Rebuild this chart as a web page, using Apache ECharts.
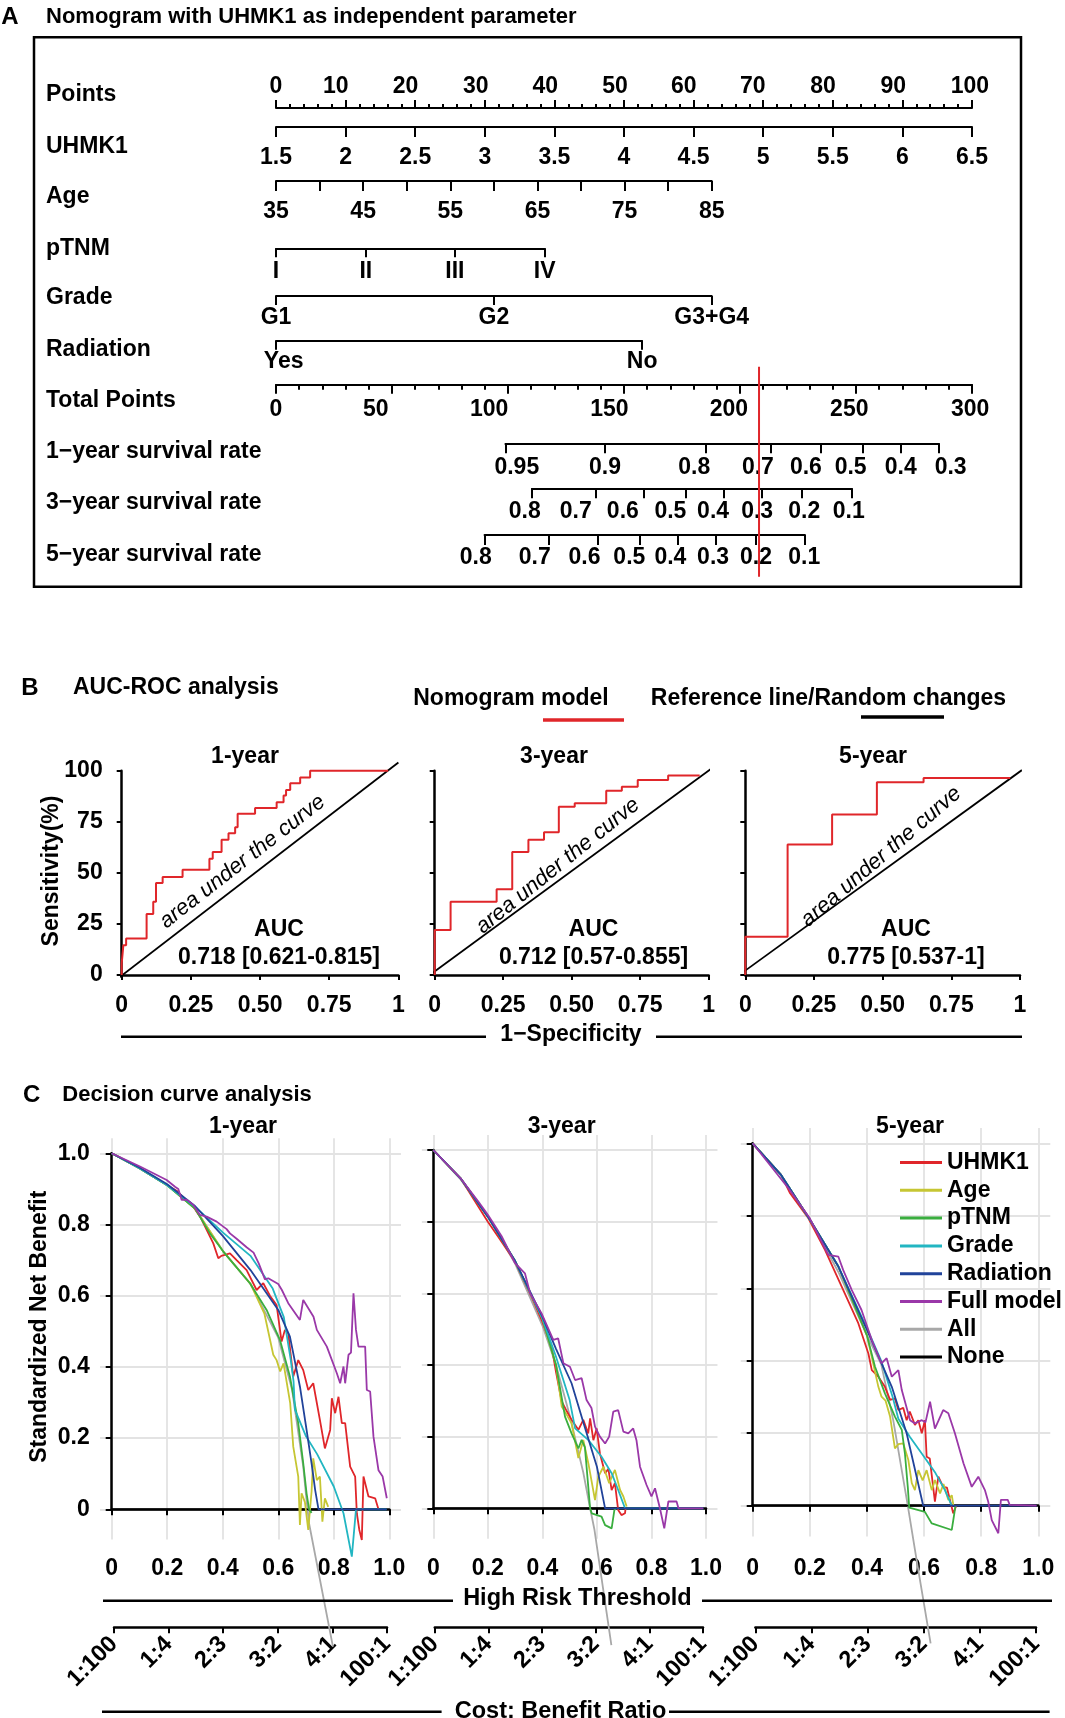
<!DOCTYPE html>
<html><head><meta charset="utf-8">
<script src="https://cdn.jsdelivr.net/npm/echarts@6/dist/echarts.min.js"></script>
<style>html,body{margin:0;padding:0;background:#fff}#c{width:1065px;height:1718px}</style>
</head><body><div id="c"></div>
<script>
// ================= DATA =================
// Panel A (nomogram)
const pointsMin = 0, pointsMax = 100, pointsStep = 10;
const pointsLabels = ['0', '10', '20', '30', '40', '50', '60', '70', '80', '90', '100'];
const pointsLabelAt = [0, 8.6, 18.6, 28.7, 38.7, 48.7, 58.6, 68.5, 78.6, 88.7, 99.7];
const uhmk1Min = 1.5, uhmk1Max = 6.5, uhmk1Step = 0.5;
const ageMin = 35, ageMax = 85, ageTickStep = 5, ageLabelStep = 10, ageMaxPoints = 62.6;
const pTNMLabels = ['I', 'II', 'III', 'IV'];
const pTNMPoints = [0, 12.9, 25.7, 38.6];
const gradeLabels = ['G1', 'G2', 'G3+G4'];
const gradePoints = [0, 31.3, 62.6];
const radiationLabels = ['Yes', 'No'];
const radiationPoints = [0, 52.6];
const radiationLabelAt = [1.1, 52.6];
const totalMin = 0, totalMax = 300, totalStep = 50;
const totalLabels = ['0', '50', '100', '150', '200', '250', '300'];
const totalLabelAt = [0, 43.0, 91.9, 143.7, 195.2, 247.1, 299.2];
const surv1Labels = ['0.95', '0.9', '0.8', '0.7', '0.6', '0.5', '0.4', '0.3'];
const surv1Ticks = [98.9, 141.5, 185.4, 213.1, 234.7, 252.8, 269.3, 285.7];
const surv1LabelAt = [103.8, 141.8, 180.3, 207.7, 228.4, 247.7, 269.3, 290.8];
const surv3Labels = ['0.8', '0.7', '0.6', '0.5', '0.4', '0.3', '0.2', '0.1'];
const surv3Ticks = [110.3, 137.7, 158.4, 176.6, 193.1, 209.2, 226.6, 248.2];
const surv3LabelAt = [107.2, 129.2, 149.5, 170.0, 188.4, 207.4, 227.7, 246.9];
const surv5Labels = ['0.8', '0.7', '0.6', '0.5', '0.4', '0.3', '0.2', '0.1'];
const surv5Ticks = [89.9, 117.6, 138.9, 156.6, 173.1, 189.5, 206.9, 228.0];
const surv5LabelAt = [86.1, 111.5, 133.0, 152.3, 170.0, 188.4, 206.9, 227.7];
const patientTotal = 208.2;

// Panel B (ROC) : [1-specificity, sensitivity %] at each step
const roc1 = [[0,0],[0,5.7],[0.006,14.6],[0.016,17.9],[0.09,29.8],[0.114,35.8],[0.124,45],[0.148,48],[0.22,51.5],[0.317,56.9],[0.329,60.2],[0.361,66.2],[0.386,69.4],[0.41,72.3],[0.419,78.9],[0.482,81.8],[0.56,84.6],[0.585,87.8],[0.594,90.6],[0.609,93.8],[0.645,96.7],[0.681,100],[0.963,100]];
const roc3 = [[0,0],[0,22],[0.058,35.8],[0.226,42],[0.283,60.2],[0.342,66.2],[0.399,69.9],[0.453,82.4],[0.511,84.1],[0.626,90.2],[0.683,92.2],[0.741,95.4],[0.852,97.6],[0.967,97.6]];
const roc5 = [[0,0],[0,18.7],[0.154,63.9],[0.316,78.5],[0.479,94.3],[0.649,96.4],[0.964,96.4]];
const roc1Ref = [[-0.036,-4],[1.0,104]];
const roc3Ref = [[-0.043,-2.4],[1.007,100.8]];
const roc5Ref = [[-0.047,-2.4],[1.007,100.3]];
const rocTitles = ['1-year', '3-year', '5-year'];
const rocAUC = ['0.718 [0.621-0.815]', '0.712 [0.57-0.855]', '0.775 [0.537-1]'];
const rocXLabels = ['0', '0.25', '0.50', '0.75', '1'];
const rocYLabels = ['0', '25', '50', '75', '100'];

// Panel C (decision curves) : [threshold, standardized net benefit]
const dcaNames = ['UHMK1', 'Age', 'pTNM', 'Grade', 'Radiation', 'Full model', 'All', 'None'];
const dca1UHMK1 = [[0,1],[0.1,0.958],[0.2,0.91],[0.234,0.895],[0.26,0.875],[0.294,0.85],[0.32,0.82],[0.366,0.747],[0.384,0.705],[0.395,0.712],[0.426,0.719],[0.45,0.70],[0.486,0.672],[0.522,0.616],[0.546,0.635],[0.57,0.60],[0.594,0.574],[0.612,0.471],[0.624,0.504],[0.636,0.494],[0.654,0.373],[0.672,0.419],[0.69,0.391],[0.708,0.335],[0.726,0.354],[0.75,0.251],[0.768,0.171],[0.787,0.223],[0.793,0.312],[0.805,0.27],[0.817,0.316],[0.829,0.242],[0.841,0.242],[0.859,0.12],[0.877,0.092],[0.883,-0.011],[0.892,-0.058],[0.901,-0.086],[0.907,0.092],[0.925,0.036],[0.949,0.031],[0.961,0]];
const dca1Age = [[0,1],[0.1,0.958],[0.2,0.91],[0.3,0.845],[0.4,0.726],[0.5,0.633],[0.55,0.55],[0.582,0.434],[0.594,0.419],[0.607,0.387],[0.619,0.41],[0.643,0.298],[0.654,0.176],[0.672,0.092],[0.678,-0.044],[0.684,0.045],[0.696,0.02],[0.708,-0.058],[0.72,0.05],[0.726,0.143],[0.739,0.082],[0.75,0.092],[0.759,-0.035],[0.768,0.031],[0.78,0.007]];
const dca1pTNM = [[0,1],[0.1,0.958],[0.2,0.91],[0.3,0.845],[0.354,0.775],[0.402,0.724],[0.498,0.635],[0.558,0.56],[0.606,0.476],[0.642,0.373],[0.672,0.242],[0.69,0.129],[0.702,0.045],[0.711,0],[0.72,-0.01]];
const dca1Grade = [[0,1],[0.1,0.958],[0.2,0.91],[0.3,0.85],[0.4,0.778],[0.5,0.712],[0.58,0.62],[0.62,0.54],[0.645,0.42],[0.655,0.36],[0.66,0.28],[0.7,0.205],[0.74,0.155],[0.8,0.064],[0.835,-0.011],[0.865,-0.133],[0.88,0],[0.99,0]];
const dca1Radiation = [[0,1],[0.1,0.96],[0.2,0.913],[0.3,0.852],[0.4,0.768],[0.5,0.672],[0.6,0.56],[0.642,0.485],[0.678,0.345],[0.702,0.223],[0.72,0.129],[0.733,0.054],[0.745,0],[0.99,0]];
const dca1Full = [[0,1],[0.102,0.963],[0.198,0.925],[0.228,0.906],[0.24,0.90],[0.252,0.869],[0.27,0.87],[0.294,0.855],[0.318,0.827],[0.342,0.822],[0.378,0.808],[0.414,0.787],[0.426,0.775],[0.45,0.76],[0.486,0.736],[0.511,0.721],[0.53,0.69],[0.552,0.646],[0.564,0.649],[0.6,0.633],[0.613,0.616],[0.636,0.579],[0.678,0.532],[0.69,0.588],[0.727,0.541],[0.739,0.504],[0.775,0.457],[0.811,0.382],[0.823,0.354],[0.835,0.401],[0.841,0.354],[0.853,0.434],[0.862,0.44],[0.871,0.607],[0.88,0.504],[0.889,0.457],[0.913,0.457],[0.919,0.335],[0.931,0.331],[0.943,0.204],[0.961,0.11],[0.976,0.092],[0.991,0.031]];
const dca1All = [[0,1],[0.1,0.958],[0.2,0.91],[0.3,0.845],[0.4,0.726],[0.5,0.633],[0.6,0.482],[0.65,0.335],[0.69,0.12],[0.70,0.04],[0.711,-0.04],[0.797,-0.386]];
const dca1None = [[0,0],[0.99,0]];

const dca3UHMK1 = [[0,1],[0.1,0.921],[0.2,0.8],[0.238,0.758],[0.3,0.688],[0.36,0.591],[0.4,0.52],[0.434,0.451],[0.45,0.38],[0.471,0.298],[0.49,0.27],[0.507,0.247],[0.532,0.219],[0.55,0.247],[0.568,0.209],[0.575,0.251],[0.587,0.19],[0.599,0.223],[0.611,0.153],[0.63,0.098],[0.642,0.11],[0.654,0.051],[0.666,0.07],[0.678,-0.005],[0.69,-0.019],[0.703,-0.014],[0.705,0]];
const dca3Age = [[0,1],[0.1,0.921],[0.2,0.814],[0.3,0.69],[0.4,0.53],[0.45,0.40],[0.471,0.284],[0.49,0.26],[0.507,0.237],[0.532,0.14],[0.55,0.191],[0.57,0.12],[0.593,0.023],[0.605,0.088],[0.624,0.116],[0.645,0.07],[0.666,0.107],[0.685,0.051],[0.697,0.033],[0.709,0.005]];
const dca3pTNM = [[0,1],[0.1,0.921],[0.2,0.814],[0.3,0.69],[0.4,0.53],[0.45,0.40],[0.483,0.256],[0.507,0.209],[0.532,0.167],[0.544,0.191],[0.556,0.17],[0.575,0],[0.581,-0.014],[0.617,-0.023],[0.63,-0.047],[0.654,-0.056],[0.664,-0.005],[0.67,0]];
const dca3Grade = [[0,1],[0.1,0.921],[0.2,0.814],[0.3,0.69],[0.4,0.53],[0.45,0.423],[0.5,0.302],[0.52,0.223],[0.568,0.191],[0.617,0.144],[0.654,0.098],[0.678,0.051],[0.703,0],[0.99,0]];
const dca3Radiation = [[0,1],[0.1,0.921],[0.2,0.814],[0.3,0.69],[0.4,0.535],[0.45,0.445],[0.507,0.349],[0.55,0.24],[0.6,0.116],[0.63,0],[0.99,0]];
const dca3Full = [[0,1],[0.1,0.921],[0.165,0.856],[0.2,0.819],[0.25,0.76],[0.3,0.684],[0.336,0.656],[0.355,0.6],[0.397,0.544],[0.44,0.47],[0.458,0.474],[0.477,0.405],[0.501,0.395],[0.52,0.358],[0.544,0.363],[0.562,0.302],[0.58,0.28],[0.593,0.228],[0.611,0.2],[0.63,0.181],[0.645,0.2],[0.66,0.27],[0.678,0.274],[0.697,0.214],[0.715,0.209],[0.733,0.223],[0.745,0.19],[0.758,0.116],[0.782,0.065],[0.8,0.033],[0.813,0.056],[0.831,0],[0.847,-0.056],[0.862,0.019],[0.892,0.019],[0.899,0],[0.99,0]];
const dca3All = [[0,1],[0.1,0.918],[0.2,0.815],[0.3,0.683],[0.4,0.51],[0.45,0.40],[0.5,0.26],[0.55,0.1],[0.575,0],[0.591,-0.06],[0.653,-0.382]];
const dca3None = [[0,0],[0.99,0]];

const dca5UHMK1 = [[0,1],[0.1,0.912],[0.131,0.862],[0.195,0.793],[0.253,0.706],[0.312,0.604],[0.37,0.503],[0.405,0.42],[0.417,0.374],[0.44,0.356],[0.463,0.328],[0.481,0.292],[0.498,0.296],[0.51,0.264],[0.527,0.27],[0.539,0.236],[0.55,0.26],[0.568,0.223],[0.58,0.236],[0.592,0.2],[0.603,0.236],[0.609,0.135],[0.62,0.13],[0.638,0.011],[0.65,0.08],[0.667,0.052],[0.68,0.05],[0.702,-0.021],[0.714,0.002]];
const dca5Age = [[0,1],[0.1,0.912],[0.2,0.79],[0.3,0.66],[0.4,0.47],[0.44,0.328],[0.451,0.301],[0.465,0.29],[0.481,0.246],[0.498,0.158],[0.51,0.17],[0.527,0.172],[0.545,0.126],[0.557,0.062],[0.568,0.043],[0.58,0.098],[0.595,0.07],[0.609,0.098],[0.627,0.043],[0.638,0.071],[0.656,0.034],[0.668,0.06],[0.685,0.016],[0.697,0.029],[0.703,0]];
const dca5pTNM = [[0,1],[0.1,0.912],[0.2,0.79],[0.3,0.66],[0.4,0.47],[0.428,0.384],[0.463,0.31],[0.498,0.246],[0.522,0.209],[0.533,0.144],[0.543,0.052],[0.548,-0.005],[0.603,-0.017],[0.627,-0.049],[0.697,-0.067],[0.706,-0.021],[0.71,0]];
const dca5Grade = [[0,1],[0.1,0.912],[0.2,0.79],[0.3,0.66],[0.4,0.49],[0.45,0.40],[0.49,0.3],[0.51,0.24],[0.55,0.19],[0.6,0.135],[0.64,0.09],[0.673,0.043],[0.697,0]];
const dca5Radiation = [[0,1],[0.1,0.912],[0.2,0.79],[0.3,0.66],[0.4,0.485],[0.487,0.328],[0.539,0.2],[0.574,0.08],[0.597,0],[0.994,0]];
const dca5Full = [[0,1],[0.125,0.876],[0.2,0.793],[0.265,0.692],[0.3,0.687],[0.317,0.65],[0.347,0.595],[0.381,0.54],[0.417,0.457],[0.451,0.393],[0.469,0.407],[0.487,0.356],[0.51,0.374],[0.522,0.319],[0.551,0.236],[0.568,0.227],[0.592,0.236],[0.605,0.23],[0.621,0.287],[0.638,0.213],[0.667,0.264],[0.685,0.255],[0.708,0.2],[0.738,0.117],[0.767,0.052],[0.79,0.08],[0.813,0.043],[0.825,0.01],[0.837,-0.04],[0.86,-0.076],[0.869,0.016],[0.893,0.016],[0.9,0.002],[0.994,0]];
const dca5All = [[0,1],[0.1,0.91],[0.2,0.79],[0.3,0.645],[0.4,0.47],[0.45,0.39],[0.492,0.236],[0.543,0],[0.574,-0.15],[0.623,-0.38]];
const dca5None = [[0,0],[0.994,0]];

const dcaTitles = ['1-year', '3-year', '5-year'];
const dcaTickLabels = ['0', '0.2', '0.4', '0.6', '0.8', '1.0'];
const dcaGridValues = [0, 0.2, 0.4, 0.6, 0.8, 1.0];
const cbLabels = ['1:100', '1:4', '2:3', '3:2', '4:1', '100:1'];

// ================= STYLE / LAYOUT =================
const FONT = "'Liberation Sans', Arial, Helvetica, sans-serif";
const BLACK = '#000';
const colors = {'UHMK1':'#e0262a','Age':'#c6c633','pTNM':'#3aae3f','Grade':'#22b6c2','Radiation':'#21439a','Full model':'#9a38a8','All':'#a8a8a8','None':'#000000'};
const NX0 = 276, NW = 696;
const pxP = p => NX0 + p / 100 * NW;
const pxT = t => NX0 + t / 300 * NW;

const grids = [], xAxes = [], yAxes = [], series = [], graphics = [];
function addGrid(g, x, y) {
  const i = grids.length;
  grids.push(g);
  xAxes.push(Object.assign({gridIndex: i}, x));
  yAxes.push(Object.assign({gridIndex: i}, y || {type: 'value', show: false, min: 0, max: 1}));
  return i;
}
function lbl(size, extra) { return Object.assign({color: BLACK, fontSize: size, fontWeight: 'bold', fontFamily: FONT}, extra || {}); }
function txt(text, x, y, o) {
  o = o || {};
  graphics.push({type: 'text', x: x, y: y, rotation: o.rot || 0, z: 10, silent: true,
    style: {text: text, fill: BLACK,
      font: (o.style || 'normal') + ' ' + (o.weight || 'bold') + ' ' + (o.size || 23) + 'px ' + FONT,
      textAlign: o.align || 'center', textVerticalAlign: 'middle', align: o.align || 'center', verticalAlign: 'middle'}});
}
function hline(x1, y, x2, w, color) {
  graphics.push({type: 'line', silent: true, z: 10, shape: {x1: x1, y1: y, x2: x2, y2: y}, style: {stroke: color || BLACK, lineWidth: w || 2.5}});
}
const tickStyle = {color: BLACK, width: 2};
function nomoAxis(o) { return Object.assign({type: 'value', axisLine: {show: true, lineStyle: {color: BLACK, width: 2}}, splitLine: {show: false}}, o); }
function lookup(vals, labels) { return v => { let best = 0; for (let i = 1; i < vals.length; i++) if (Math.abs(vals[i] - v) < Math.abs(vals[best] - v)) best = i; return labels[best]; }; }

// ================= PANEL A =================
txt('A', 10, 17, {size: 24});
txt('Nomogram with UHMK1 as independent parameter', 46, 17, {align: 'left', size: 22});
graphics.push({type: 'rect', silent: true, z: 10, shape: {x: 34, y: 37.3, width: 987, height: 549.4}, style: {fill: 'none', stroke: BLACK, lineWidth: 2.5}});
[['Points', 95], ['UHMK1', 146.7], ['Age', 196.7], ['pTNM', 248.3], ['Grade', 298], ['Radiation', 350], ['Total Points', 400.7],
 ['1\u2212year survival rate', 451.7], ['3\u2212year survival rate', 502.7], ['5\u2212year survival rate', 555]].forEach(r => txt(r[0], 46, r[1], {align: 'left'}));

addGrid({left: pxP(pointsMin), top: 107, width: pxP(pointsMax) - pxP(pointsMin), height: 1}, nomoAxis({
  position: 'top', min: pointsMin, max: pointsMax, interval: pointsStep,
  axisTick: {show: true, length: 8, lineStyle: tickStyle},
  minorTick: {show: true, splitNumber: 5, length: 4, lineStyle: tickStyle},
  axisLabel: lbl(23, {margin: 9, customValues: pointsLabelAt, formatter: lookup(pointsLabelAt, pointsLabels)})}));
addGrid({left: pxP(0), top: 126, width: pxP(100) - pxP(0), height: 1}, nomoAxis({
  position: 'bottom', min: uhmk1Min, max: uhmk1Max, interval: uhmk1Step,
  axisTick: {show: true, length: 10, lineStyle: tickStyle}, axisLabel: lbl(23, {margin: 19})}));
addGrid({left: pxP(0), top: 180, width: pxP(ageMaxPoints) - pxP(0), height: 1}, nomoAxis({
  position: 'bottom', min: ageMin, max: ageMax, interval: ageTickStep,
  axisTick: {show: true, length: 10, lineStyle: tickStyle},
  axisLabel: lbl(23, {margin: 19, formatter: v => ((v - ageMin) % ageLabelStep === 0 ? String(v) : '')})}));
function catRow(points, labelAt, labels, lineY, margin) {
  addGrid({left: pxP(points[0]), top: lineY - 1, width: pxP(points[points.length - 1]) - pxP(points[0]), height: 1}, nomoAxis({
    position: 'bottom', min: points[0], max: points[points.length - 1],
    axisTick: {show: true, length: 9, lineStyle: tickStyle, customValues: points},
    axisLabel: lbl(23, {margin: margin, customValues: labelAt, formatter: lookup(labelAt, labels)})}));
}
catRow(pTNMPoints, pTNMPoints, pTNMLabels, 248.3, 12);
catRow(gradePoints, gradePoints, gradeLabels, 296, 10);
catRow(radiationPoints, radiationLabelAt, radiationLabels, 340.7, 9);
addGrid({left: pxT(totalMin), top: 383.3, width: pxT(totalMax) - pxT(totalMin), height: 1}, nomoAxis({
  position: 'bottom', min: totalMin, max: totalMax, interval: totalStep,
  axisTick: {show: true, length: 9.5, lineStyle: tickStyle},
  minorTick: {show: true, splitNumber: 5, length: 5.5, lineStyle: tickStyle},
  axisLabel: lbl(23, {margin: 13.5, customValues: totalLabelAt, formatter: lookup(totalLabelAt, totalLabels)})}));
function survRow(ticks, labelsAt, labels, lineY, dist) {
  const l = pxT(ticks[0]), r = pxT(ticks[ticks.length - 1]);
  const gi = addGrid({left: l, top: lineY - 1, width: r - l, height: 1}, nomoAxis({
    position: 'bottom', min: ticks[0], max: ticks[ticks.length - 1],
    axisTick: {show: true, length: 10, lineStyle: tickStyle, customValues: ticks},
    axisLabel: {show: false}}));
  series.push({type: 'scatter', xAxisIndex: gi, yAxisIndex: gi, symbolSize: 0, silent: true, clip: false,
    itemStyle: {color: BLACK, opacity: 1}, data: labelsAt.map(v => [v, 0]),
    label: lbl(23, {show: true, position: 'bottom', distance: dist, opacity: 1, formatter: p => labels[p.dataIndex]})});
}
survRow(surv1Ticks, surv1LabelAt, surv1Labels, 443.3, 13);
survRow(surv3Ticks, surv3LabelAt, surv3Labels, 488.3, 11.5);
survRow(surv5Ticks, surv5LabelAt, surv5Labels, 535, 11);
const gRed = addGrid({left: pxT(0), top: 366.7, width: NW, height: 210}, {type: 'value', show: false, min: totalMin, max: totalMax}, {type: 'value', show: false, min: 0, max: 1});
series.push({type: 'line', xAxisIndex: gRed, yAxisIndex: gRed, data: [[patientTotal, 0], [patientTotal, 1]], symbol: 'none', silent: true, z: 5, lineStyle: {color: '#e0262a', width: 2}});

// ================= PANEL B =================
txt('B', 30, 688, {size: 24});
txt('AUC-ROC analysis', 73, 688, {align: 'left', size: 23});
txt('Nomogram model', 511, 699, {size: 23});
txt('Reference line/Random changes', 828.5, 699, {size: 23});
hline(543, 720, 624, 3.5, '#e0262a');
hline(861, 717, 944, 3.5, BLACK);
txt('Sensitivity(%)', 52, 871, {rot: Math.PI / 2, size: 23});
txt('1\u2212Specificity', 571, 1035, {size: 23});
hline(121, 1036.7, 486, 2.5); hline(656, 1036.7, 1022, 2.5);

const rocLayout = [{left: 121.7, width: 276.7, yOff: 10}, {left: 434.7, width: 274, yOff: 13.7}, {left: 745.3, width: 274.7, yOff: 13}];
const rocCurves = [roc1, roc3, roc5], rocRefs = [roc1Ref, roc3Ref, roc5Ref];
const rocTitleX = [245, 554, 873], aucX = [279, 593.5, 906];
const rocText = [{x: 242.5, y: 861.7, a: 37.9}, {x: 557.9, y: 865.8, a: 38.8}, {x: 881.2, y: 856.7, a: 40.6}];
function stepPath(pts) { const out = [pts[0]]; for (let i = 1; i < pts.length; i++) { out.push([pts[i][0], pts[i - 1][1]]); out.push(pts[i]); } return out; }
rocLayout.forEach((L, k) => {
  const gi = addGrid({left: L.left, top: 770.7, width: L.width, height: 204.3},
    {type: 'value', min: 0, max: 1, interval: 0.25, offset: 9, position: 'bottom',
      axisLine: {show: true, lineStyle: {color: BLACK, width: 2.5}}, axisTick: {show: true, length: 5, lineStyle: tickStyle},
      axisLabel: lbl(23, {margin: 10, formatter: v => rocXLabels[Math.round(v / 0.25)]}), splitLine: {show: false}},
    {type: 'value', min: 0, max: 100, interval: 25, offset: L.yOff, position: 'left',
      axisLine: {show: true, lineStyle: {color: BLACK, width: 2.5}}, axisTick: {show: true, length: 5, lineStyle: tickStyle},
      axisLabel: lbl(23, {show: k === 0, margin: 9, formatter: v => rocYLabels[Math.round(v / 25)]}), splitLine: {show: false}});
  series.push({type: 'line', xAxisIndex: gi, yAxisIndex: gi, data: rocRefs[k], symbol: 'none', clip: false, silent: true, z: 2, lineStyle: {color: BLACK, width: 1.8}});
  series.push({type: 'line', xAxisIndex: gi, yAxisIndex: gi, data: stepPath(rocCurves[k]), symbol: 'none', clip: false, silent: true, z: 3, lineStyle: {color: '#e0262a', width: 2}});
  txt(rocTitles[k], rocTitleX[k], 757, {size: 23});
  txt('AUC', aucX[k], 930, {size: 23});
  txt(rocAUC[k], aucX[k], 958, {size: 23});
  txt('area under the curve', rocText[k].x, rocText[k].y, {rot: rocText[k].a * Math.PI / 180, style: 'italic', weight: 'normal', size: 22});
});

// ================= PANEL C =================
txt('C', 31.7, 1095, {size: 24});
txt('Decision curve analysis', 62.3, 1095, {align: 'left', size: 22});
txt('Standardized Net Benefit', 40, 1326.7, {rot: Math.PI / 2, size: 23});
txt('High Risk Threshold', 577.4, 1598.3, {size: 23.5});
hline(103, 1600.7, 453, 2.5); hline(702, 1600.7, 1052, 2.5);
txt('Cost: Benefit Ratio', 560.5, 1711.7, {size: 23.5});
hline(102, 1711.7, 441.6, 2.5); hline(669, 1711.7, 1049.6, 2.5);

const dcaLayout = [
  {left: 111.7, top: 1153.3, width: 277.6, height: 356, yOff: 0, xOff: 33.4, tx: 243},
  {left: 433.3, top: 1150, width: 272.7, height: 358.3, yOff: 5, xOff: 34.4, tx: 561.7},
  {left: 752.7, top: 1143.3, width: 285.6, height: 362.4, yOff: 13.7, xOff: 37, tx: 910}];
const dcaData = [
  {'UHMK1': dca1UHMK1, 'Age': dca1Age, 'pTNM': dca1pTNM, 'Grade': dca1Grade, 'Radiation': dca1Radiation, 'Full model': dca1Full, 'All': dca1All, 'None': dca1None},
  {'UHMK1': dca3UHMK1, 'Age': dca3Age, 'pTNM': dca3pTNM, 'Grade': dca3Grade, 'Radiation': dca3Radiation, 'Full model': dca3Full, 'All': dca3All, 'None': dca3None},
  {'UHMK1': dca5UHMK1, 'Age': dca5Age, 'pTNM': dca5pTNM, 'Grade': dca5Grade, 'Radiation': dca5Radiation, 'Full model': dca5Full, 'All': dca5All, 'None': dca5None}];
const drawOrder = ['All', 'None', 'UHMK1', 'Age', 'pTNM', 'Grade', 'Radiation', 'Full model'];
const panelX = [-0.042, 1.042], panelY = [-0.085, 1.042];
const cbLayout = [{left: 114, width: 273}, {left: 434.8, width: 268.2}, {left: 755.4, width: 280.6}];
dcaLayout.forEach((L, k) => {
  const gi = addGrid({left: L.left, top: L.top, width: L.width, height: L.height},
    {type: 'value', min: 0, max: 1, interval: 0.2, offset: L.xOff, position: 'bottom', z: 1,
      axisLine: {show: true, lineStyle: {color: BLACK, width: 2.5}}, axisTick: {show: true, length: 6, lineStyle: tickStyle},
      axisLabel: lbl(23, {margin: 14, formatter: v => dcaTickLabels[Math.round(v / 0.2)]}), splitLine: {show: false}},
    {type: 'value', min: 0, max: 1, interval: 0.2, offset: L.yOff, position: 'left', z: 1,
      axisLine: {show: true, lineStyle: {color: BLACK, width: 2.5}}, axisTick: {show: true, length: 6, lineStyle: tickStyle},
      axisLabel: lbl(23, {show: k === 0, margin: 22, formatter: v => dcaTickLabels[Math.round(v / 0.2)]}), splitLine: {show: false}});
  const gl = [];
  dcaGridValues.forEach(v => { gl.push({coords: [[v, panelY[0]], [v, panelY[1]]]}); gl.push({coords: [[panelX[0], v], [panelX[1], v]]}); });
  series.push({type: 'lines', coordinateSystem: 'cartesian2d', xAxisIndex: gi, yAxisIndex: gi, data: gl, clip: false, silent: true, z: 0,
    lineStyle: {color: '#e3e3e3', width: 1.8, opacity: 1}});
  drawOrder.forEach(name => {
    series.push({type: 'line', name: name, xAxisIndex: gi, yAxisIndex: gi, data: dcaData[k][name], symbol: 'none', clip: false, silent: true, z: 2,
      itemStyle: {color: colors[name]}, lineStyle: {color: colors[name], width: 1.8}});
  });
  txt(dcaTitles[k], L.tx, 1127, {size: 23});
  const C = cbLayout[k];
  addGrid({left: C.left, top: 1626.3, width: C.width, height: 1},
    {type: 'value', position: 'bottom', min: 0, max: 1, interval: 0.2,
      axisLine: {show: true, lineStyle: {color: BLACK, width: 2.5}}, axisTick: {show: true, length: 6, lineStyle: tickStyle},
      axisLabel: lbl(23.5, {rotate: 45, margin: 13, formatter: v => cbLabels[Math.round(v / 0.2)]}), splitLine: {show: false}});
});

const chart = echarts.init(document.getElementById('c'), null, {renderer: 'canvas'});
chart.setOption({
  animation: false,
  backgroundColor: '#fff',
  grid: grids, xAxis: xAxes, yAxis: yAxes, series: series,
  legend: {orient: 'vertical', left: 895, top: 1146, itemWidth: 42, itemHeight: 3, itemGap: 4.8, icon: 'rect',
    selectedMode: false, data: dcaNames, textStyle: lbl(23, {lineHeight: 23}), z: 10},
  graphic: {elements: graphics}
});
</script></body></html>
